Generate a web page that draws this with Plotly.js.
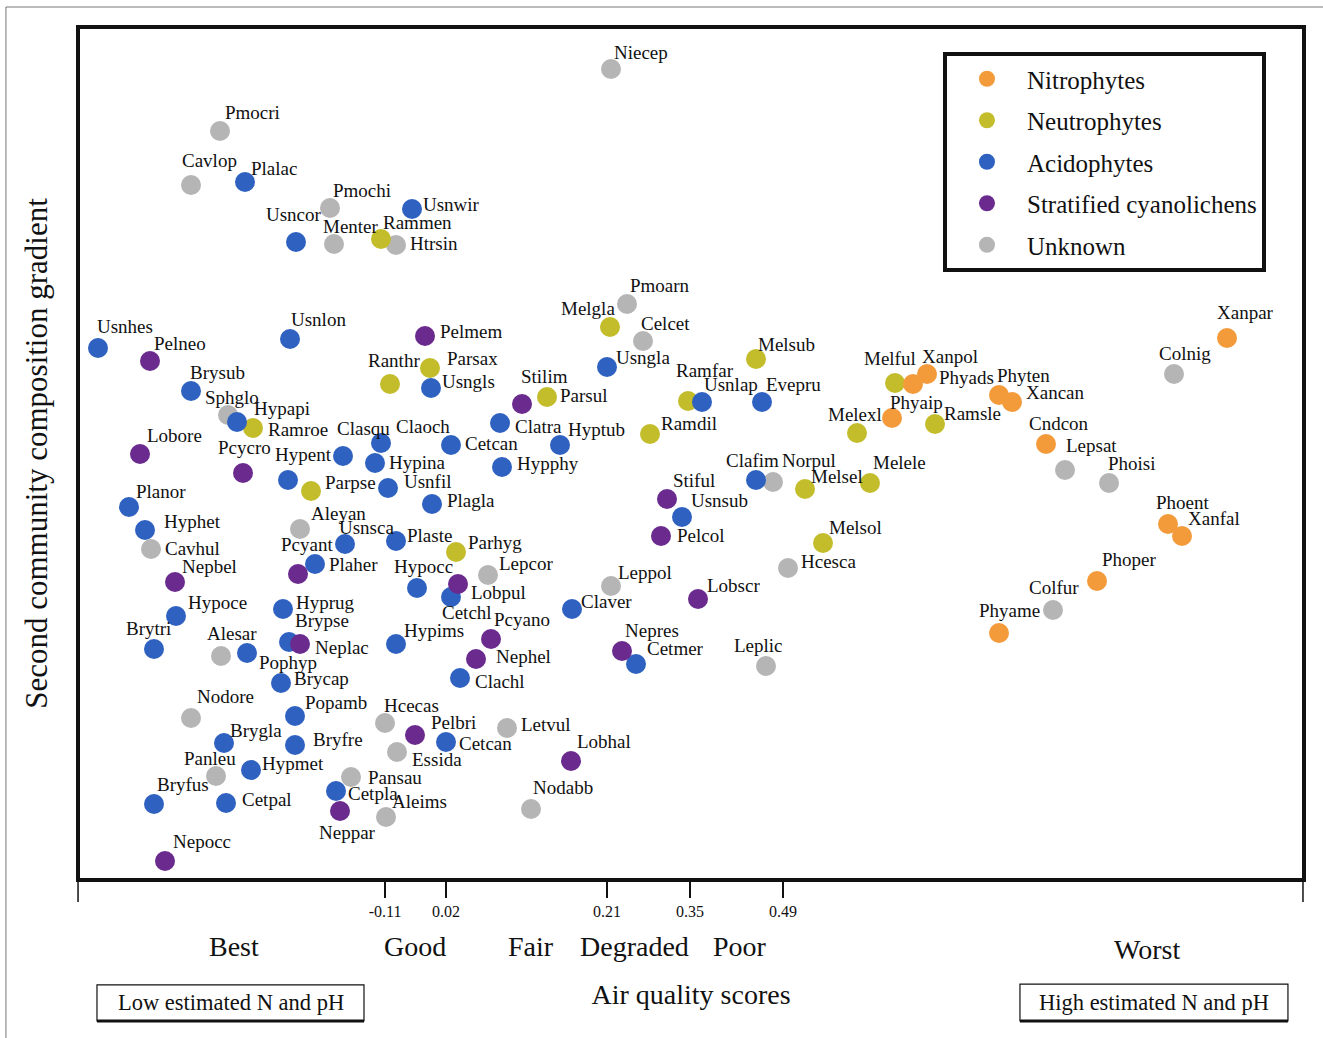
<!DOCTYPE html>
<html><head><meta charset="utf-8">
<script src="https://cdn.plot.ly/plotly-3.0.1.min.js"></script>
<style>html,body{margin:0;padding:0;background:#fff}#chart{width:1323px;height:1038px}</style>
</head><body><div id="chart"></div>
<script>
// ---------------- DATA ----------------
const groupNames = ["Nitrophytes", "Neutrophytes", "Acidophytes", "Stratified cyanolichens", "Unknown"];

// Axis 1 (air quality) and axis 2 (second community gradient) scores, in arbitrary plot units
const nitroNames = ["Phyaip","Xanpol","Phyads","Phyten","Xancan","Cndcon","Xanpar","Phoent","Xanfal","Phoper","Phyame"];
const nitroX = [814,849,835,921,934,968,1149,1090,1104,1019,921];
const nitroY = [462,506,496,485,478,436,542,356,344,299,247];

const neutroNames = ["Rammen","Ranthr","Parsax","Ramroe","Parpse","Parhyg","Melgla","Parsul","Ramfar","Ramdil","Melsub","Melful","Melexl","Ramsle","Melsel","Melele","Melsol"];
const neutroX = [303,312,352,175,233,378,532,469,610,572,678,817,779,857,727,792,745];
const neutroY = [641,496,512,452,389,328,553,483,479,446,521,497,447,456,391,397,337];

const acidoNames = ["Plalac","Usnwir","Usncor","Usnhes","Usnlon","Brysub","Hypapi","Usngls","Hypent","Clasqu","Claoch","Cetcan","Hypina","Usnfil","Planor","Hyphet","Plagla","Usnsca","Plaher","Plaste","Hypocc","Cetchl","Hypoce","Hyprug","Brypse","Brytri","Pophyp","Hypims","Clachl","Brycap","Popamb","Brygla","Bryfre","Cetcan","Hypmet","Cetpla","Bryfus","Cetpal","Usngla","Clatra","Hyptub","Hypphy","Usnlap","Evepru","Clafim","Usnsub","Claver","Cetmer"];
const acidoX = [167,334,218,20,212,113,159,353,210,265,303,373,297,310,51,67,354,267,237,318,339,373,98,205,211,76,169,318,382,203,217,146,217,368,173,258,76,148,529,422,482,424,624,684,678,604,494,558];
const acidoY = [698,671,638,532,541,489,458,492,400,424,437,435,417,392,373,350,376,336,316,339,292,283,264,271,238,231,227,236,202,197,164,137,135,138,110,89,76,77,513,457,435,413,478,478,400,363,271,216];

const cyanoNames = ["Pelneo","Pelmem","Lobore","Pcycro","Nepbel","Pcyant","Lobpul","Neplac","Pcyano","Nephel","Pelbri","Neppar","Nepocc","Stilim","Stiful","Pelcol","Lobscr","Nepres","Lobhal"];
const cyanoX = [72,347,62,165,97,220,380,222,413,398,337,262,87,444,589,583,620,544,493];
const cyanoY = [519,544,426,407,298,306,296,236,241,221,145,69,19,476,381,344,281,229,119];

const unknownNames = ["Niecep","Pmocri","Cavlop","Pmochi","Menter","Htrsin","Sphglo","Cavhul","Aleyan","Lepcor","Alesar","Nodore","Hcecas","Essida","Panleu","Pansau","Aleims","Pmoarn","Celcet","Norpul","Hcesca","Leppol","Leplic","Letvul","Nodabb","Colnig","Lepsat","Phoisi","Colfur"];
const unknownX = [533,142,113,252,256,318,150,73,222,410,143,113,307,319,138,273,308,549,565,695,710,533,688,429,453,1096,987,1031,975];
const unknownY = [811,749,695,672,636,635,465,331,351,305,224,162,157,128,104,103,63,576,539,398,312,294,214,152,71,506,410,397,270];

// x-axis ticks (air quality score thresholds) and class names
const tickVals = [307,368,529,612,705];
const tickText = ["-0.11","0.02","0.21","0.35","0.49"];
const qualityClasses = ["Best","Good","Fair","Degraded","Poor","Worst"];

// ---------------- STYLE ----------------
const FONT = "Liberation Serif, Times New Roman, serif";
const colors = ["#F39B3B","#C3BD2C","#2F62C0","#6A2A8E","#B5B5B5"];
// label placement offsets (px) relative to each marker: [dx to label left edge, dy up to label centre]
const nitroDx = [-3,-6,25,-3,13,-18,-11,-13,5,4,-21];
const nitroDy = [16,18,7,20,10,21,26,22,18,22,23];
const neutroDx = [1,-23,16,14,13,11,-50,12,-13,10,1,-32,-30,8,5,2,5];
const neutroDy = [17,24,10,-1,9,10,19,2,31,11,15,25,19,11,13,21,16];
const acidoDx = [5,10,-31,-2,0,-2,16,10,-14,-7,14,13,13,15,6,18,14,-7,13,10,-24,-10,11,12,5,-29,11,7,14,12,9,5,17,12,10,11,2,15,8,14,7,14,1,3,-31,8,8,10];
const acidoDy = [14,5,28,22,20,19,14,7,26,28,17,2,1,7,16,9,4,17,0,6,22,-15,14,7,22,21,-9,14,-3,5,14,13,6,-1,7,-2,20,4,10,-3,16,4,18,18,20,17,8,16];
const cyanoDx = [3,14,6,-26,6,-18,12,14,2,19,15,-22,7,-2,5,15,8,2,5];
const cyanoDy = [18,5,19,26,16,30,-8,-3,20,3,13,-21,20,28,19,1,14,21,20];
const unknownDx = [2,4,-10,2,-12,13,-24,13,10,10,-15,5,-2,14,-33,16,5,2,-3,8,12,6,-33,13,1,-16,0,-2,-25];
const unknownDy = [17,19,25,18,18,2,18,1,16,12,23,22,18,-7,18,0,16,19,18,22,7,14,21,4,22,21,25,20,23];
const qualityLabelX = [156,337,453,556,662,1069];

const groups = [
  {names: nitroNames, x: nitroX, y: nitroY, dx: nitroDx, dy: nitroDy},
  {names: neutroNames, x: neutroX, y: neutroY, dx: neutroDx, dy: neutroDy},
  {names: acidoNames, x: acidoX, y: acidoY, dx: acidoDx, dy: acidoDy},
  {names: cyanoNames, x: cyanoX, y: cyanoY, dx: cyanoDx, dy: cyanoDy},
  {names: unknownNames, x: unknownX, y: unknownY, dx: unknownDx, dy: unknownDy}
];
const drawOrder = [4, 1, 2, 3, 0];

const traces = drawOrder.map(gi => ({
  type: "scatter", mode: "markers",
  name: groupNames[gi], legendrank: gi + 1, legendgroup: "g" + gi,
  x: groups[gi].x, y: groups[gi].y, text: groups[gi].names,
  hoverinfo: "text+name",
  marker: {size: 20, color: colors[gi], line: {width: 0}}
}));

const annotations = [];
groups.forEach(g => {
  g.names.forEach((n, i) => {
    annotations.push({
      x: g.x[i], y: g.y[i], xref: "x", yref: "y", text: n, showarrow: false,
      xanchor: "left", yanchor: "middle", xshift: g.dx[i], yshift: g.dy[i],
      borderpad: 0, font: {family: FONT, size: 19, color: "#111"}
    });
  });
});
qualityClasses.forEach((c, i) => {
  annotations.push({
    x: qualityLabelX[i], y: i === 5 ? -0.0848 : -0.0801, xref: "x", yref: "paper",
    text: c, showarrow: false, xanchor: "center", yanchor: "middle",
    font: {family: FONT, size: 28, color: "#111"}
  });
});
annotations.push({x: 0.1232, y: -0.1472, xref: "paper", yref: "paper", text: "Low estimated N and pH",
  showarrow: false, xanchor: "center", yanchor: "middle", font: {family: FONT, size: 22.5, color: "#111"}});
annotations.push({x: 0.8789, y: -0.1466, xref: "paper", yref: "paper", text: "High estimated N and pH",
  showarrow: false, xanchor: "center", yanchor: "middle", font: {family: FONT, size: 22.5, color: "#111"}});

const shapes = [
  // long end ticks of the x axis
  {type: "line", xref: "paper", yref: "paper", x0: -0.0016, x1: -0.0016, y0: -0.0024, y1: -0.0283, line: {color: "#111", width: 1.5}},
  {type: "line", xref: "paper", yref: "paper", x0: 1.0008, x1: 1.0008, y0: -0.0024, y1: -0.0283, line: {color: "#111", width: 1.5}},
  // boxes
  {type: "rect", xref: "paper", yref: "paper", x0: 0.0139, x1: 0.2324, y0: -0.1260, y1: -0.1684, line: {color: "#111", width: 1.2}, fillcolor: "rgba(0,0,0,0)"},
  {type: "line", xref: "paper", yref: "paper", x0: 0.0139, x1: 0.2324, y0: -0.1684, y1: -0.1684, line: {color: "#111", width: 3}},
  {type: "rect", xref: "paper", yref: "paper", x0: 0.7692, x1: 0.9885, y0: -0.1249, y1: -0.1684, line: {color: "#111", width: 1.2}, fillcolor: "rgba(0,0,0,0)"},
  {type: "line", xref: "paper", yref: "paper", x0: 0.7692, x1: 0.9885, y0: -0.1684, y1: -0.1684, line: {color: "#111", width: 3}},
  // thin outer frame of the figure
  {type: "line", xref: "paper", yref: "paper", x0: -0.0606, x1: -0.0606, y0: 1.0259, y1: -0.1885, line: {color: "#777", width: 1}},
  {type: "line", xref: "paper", yref: "paper", x0: -0.0606, x1: 1.0172, y0: 1.0259, y1: 1.0259, line: {color: "#777", width: 1}}
];

const layout = {
  width: 1323, height: 1038,
  margin: {l: 80, r: 21, t: 29, b: 160},
  paper_bgcolor: "#fff", plot_bgcolor: "#fff",
  font: {family: FONT, color: "#111"},
  showlegend: true,
  legend: {
    x: 0.7062, y: 0.9729, xanchor: "left", yanchor: "top",
    bgcolor: "#fff", bordercolor: "#111", borderwidth: 4,
    font: {family: FONT, size: 25, color: "#111"},
    tracegroupgap: 6, itemwidth: 70, itemclick: false, itemdoubleclick: false
  },
  xaxis: {
    range: [2, 1224], showgrid: false, zeroline: false,
    showline: true, mirror: true, linecolor: "#111", linewidth: 3.5,
    ticks: "outside", ticklen: 16, tickwidth: 1.5, tickcolor: "#111",
    tickvals: tickVals, ticktext: tickText, tickfont: {family: FONT, size: 16, color: "#111"},
    title: {text: "Air quality scores", font: {family: FONT, size: 28, color: "#111"}, standoff: 66},
    fixedrange: true
  },
  yaxis: {
    range: [2, 851], showgrid: false, zeroline: false,
    showline: true, mirror: true, linecolor: "#111", linewidth: 3.5,
    showticklabels: false, ticks: "",
    title: {text: "Second community composition gradient", font: {family: FONT, size: 31, color: "#111"}, standoff: 20},
    fixedrange: true
  },
  annotations: annotations,
  shapes: shapes
};

Plotly.newPlot("chart", traces, layout, {displayModeBar: false, responsive: false});
</script>
</body></html>
